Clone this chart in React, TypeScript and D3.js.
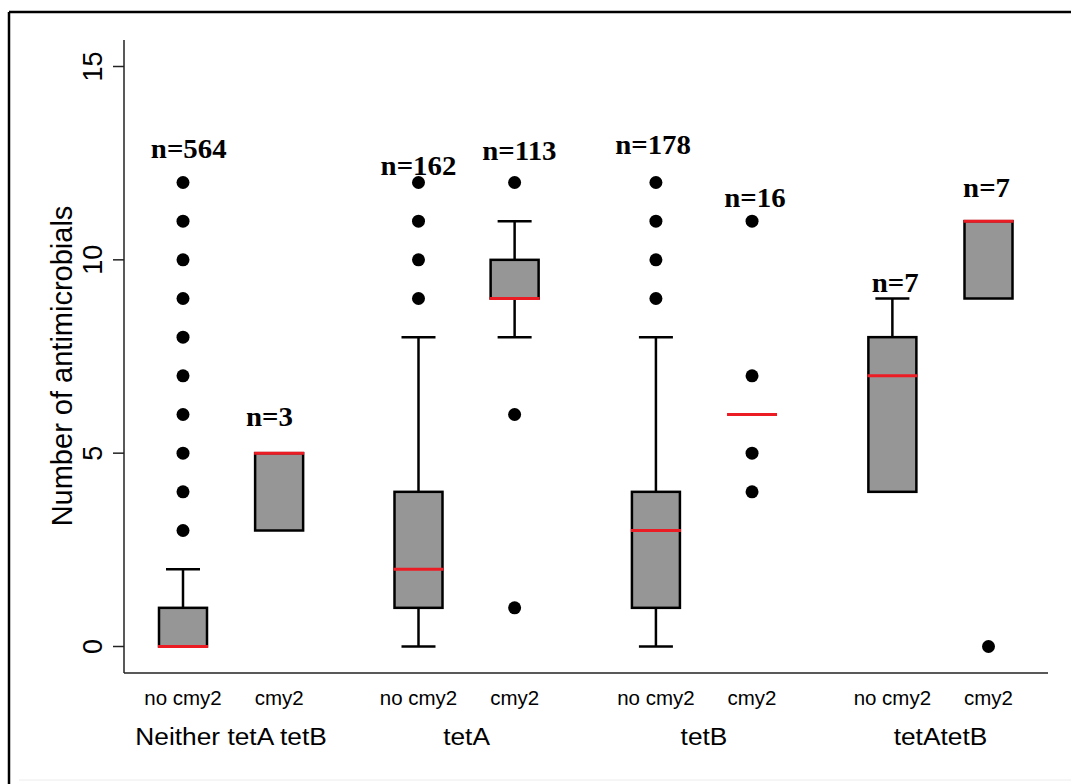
import React from "react";
import * as d3 from "d3";

// ---- data ----
const groups = ["Neither tetA tetB", "tetA", "tetB", "tetAtetB"];
const subLabels = ["no cmy2", "cmy2", "no cmy2", "cmy2", "no cmy2", "cmy2", "no cmy2", "cmy2"];
const boxPositions = [1, 2, 3.45, 4.45, 5.92, 6.92, 8.38, 9.38];
const q1 = [0, 3, 1, 9, 1, 6, 4, 9];
const medians = [0, 5, 2, 9, 3, 6, 7, 11];
const q3 = [1, 5, 4, 10, 4, 6, 8, 11];
const whiskerLow = [0, 3, 0, 8, 0, 6, 4, 9];
const whiskerHigh = [2, 5, 8, 11, 8, 6, 9, 11];
const outliers: number[][] = [
  [3, 4, 5, 6, 7, 8, 9, 10, 11, 12],
  [],
  [9, 10, 11, 12],
  [1, 6, 12],
  [9, 10, 11, 12],
  [4, 5, 7, 11],
  [],
  [0],
];
const counts = [564, 3, 162, 113, 178, 16, 7, 7];
const countLabelY = [12.63, 5.71, 12.19, 12.58, 12.74, 11.37, 9.17, 11.62];
const countLabelShift = [0.06, -0.1, 0, 0.05, -0.03, 0.03, 0.03, -0.02];
const yTicks = [0, 5, 10, 15];

export default function App() {
  const W = 1071;
  const H = 784;
  const x = d3.scaleLinear().domain([1, 9.38]).range([183, 988.5]);
  const y = d3.scaleLinear().domain([0, 15]).range([646.5, 66.5]);
  const axisX = 124;
  const axisY = 673;
  const boxW = 48;
  const capW = 34;
  const medW = 50;
  const sans = "'Liberation Sans', Arial, Helvetica, sans-serif";
  const serif = "'Liberation Serif', 'Times New Roman', serif";
  const stretch = 1.12;

  return (
    <svg width={W} height={H} style={{ position: "absolute", left: 0, top: 0, background: "#fff" }}>
      <rect x={0} y={0} width={W} height={H} fill="#fff" />
      {/* frame */}
      <line x1={9} y1={12} x2={W} y2={12} stroke="#000" strokeWidth={2.5} />
      <line x1={9} y1={12} x2={9} y2={H} stroke="#000" strokeWidth={2.5} />
      <line x1={19} y1={780} x2={W} y2={780} stroke="#ececec" strokeWidth={1} />

      {/* axes */}
      <line x1={axisX} y1={40} x2={axisX} y2={axisY} stroke="#222" strokeWidth={1.5} />
      <line x1={axisX} y1={axisY} x2={1048} y2={axisY} stroke="#222" strokeWidth={1.5} />
      {yTicks.map((t) => (
        <g key={t}>
          <line x1={113} x2={axisX} y1={y(t)} y2={y(t)} stroke="#222" strokeWidth={1.5} />
          <text
            transform={`translate(102,${y(t)}) rotate(-90)`}
            textAnchor="middle"
            fontFamily={sans}
            fontSize={27}
            fill="#000"
          >
            {t}
          </text>
        </g>
      ))}
      <text
        transform={`translate(72,366) rotate(-90)`}
        textAnchor="middle"
        fontFamily={sans}
        fontSize={29}
        fill="#000"
      >
        Number of antimicrobials
      </text>

      {/* boxes */}
      {boxPositions.map((p, i) => {
        const cx = x(p);
        const degenerate = q1[i] === q3[i];
        return (
          <g key={i}>
            {whiskerHigh[i] > q3[i] && (
              <g>
                <line x1={cx} x2={cx} y1={y(q3[i])} y2={y(whiskerHigh[i])} stroke="#000" strokeWidth={2.5} />
                <line x1={cx - capW / 2} x2={cx + capW / 2} y1={y(whiskerHigh[i])} y2={y(whiskerHigh[i])} stroke="#000" strokeWidth={2.5} />
              </g>
            )}
            {whiskerLow[i] < q1[i] && (
              <g>
                <line x1={cx} x2={cx} y1={y(q1[i])} y2={y(whiskerLow[i])} stroke="#000" strokeWidth={2.5} />
                <line x1={cx - capW / 2} x2={cx + capW / 2} y1={y(whiskerLow[i])} y2={y(whiskerLow[i])} stroke="#000" strokeWidth={2.5} />
              </g>
            )}
            {!degenerate && (
              <rect
                x={cx - boxW / 2}
                y={y(q3[i])}
                width={boxW}
                height={y(q1[i]) - y(q3[i])}
                fill="#969696"
                stroke="#000"
                strokeWidth={2.5}
              />
            )}
            <line
              x1={cx - medW / 2}
              x2={cx + medW / 2}
              y1={y(medians[i])}
              y2={y(medians[i])}
              stroke="#ec1c24"
              strokeWidth={3}
            />
            {outliers[i].map((o, j) => (
              <circle key={j} cx={cx} cy={y(o)} r={6.5} fill="#000" />
            ))}
            <text
              transform={`translate(${x(p + countLabelShift[i])},${y(countLabelY[i])}) scale(${1.09},1)`}
              textAnchor="middle"
              fontFamily={serif}
              fontWeight="bold"
              fontSize={26.5}
              fill="#000"
            >
              {`n=${counts[i]}`}
            </text>
            <text
              x={cx}
              y={705}
              textAnchor="middle"
              fontFamily={sans}
              fontSize={20.5}
              fill="#000"
            >
              {subLabels[i]}
            </text>
          </g>
        );
      })}

      {/* group labels */}
      {groups.map((g, k) => {
        const cx = (x(boxPositions[2 * k]) + x(boxPositions[2 * k + 1])) / 2;
        return (
          <text
            key={g}
            transform={`translate(${cx},745) scale(${stretch},1)`}
            textAnchor="middle"
            fontFamily={sans}
            fontSize={23.5}
            fill="#000"
          >
            {g}
          </text>
        );
      })}
    </svg>
  );
}
